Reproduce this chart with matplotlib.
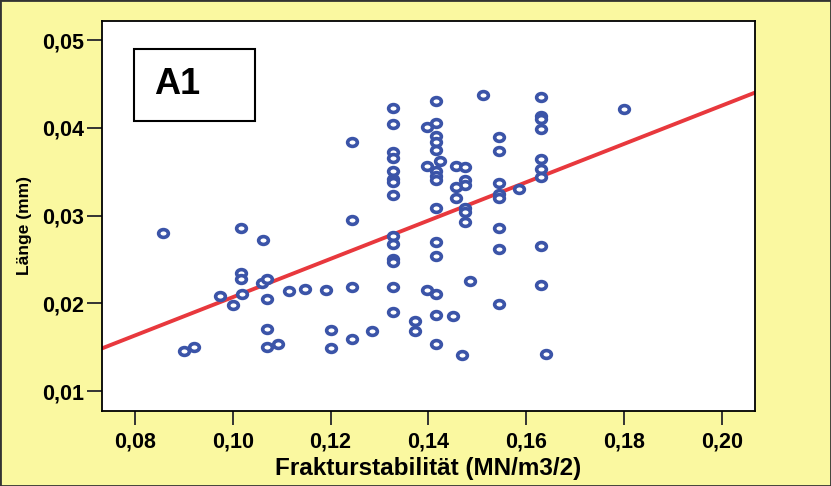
import numpy as np
import matplotlib
matplotlib.use("Agg")
import matplotlib.pyplot as plt
from matplotlib.path import Path
from matplotlib.patches import Rectangle
from matplotlib.ticker import FuncFormatter

# fracture stability (MN/m3/2) and length (mm)
frakturstabilitaet = [
    0.0858, 0.1018, 0.1062, 0.1018, 0.1018, 0.1060, 0.1071, 0.0975, 0.1019,
    0.1001, 0.1071, 0.1115, 0.1148, 0.1191, 0.1071, 0.1200, 0.0900, 0.0921,
    0.1071, 0.1093, 0.1200, 0.1243, 0.1243, 0.1243, 0.1243, 0.1285,
    0.1328, 0.1328, 0.1328, 0.1328, 0.1328, 0.1328, 0.1328, 0.1328, 0.1328,
    0.1328, 0.1328, 0.1328, 0.1328, 0.1328,
    0.1372, 0.1372,
    0.1415, 0.1415, 0.1415, 0.1415, 0.1415, 0.1415, 0.1415, 0.1415, 0.1415,
    0.1415, 0.1415, 0.1415, 0.1415, 0.1415,
    0.1396, 0.1396, 0.1423, 0.1396, 0.1451, 0.1469, 0.1512,
    0.1456, 0.1475, 0.1475, 0.1475, 0.1456, 0.1456, 0.1475, 0.1475, 0.1475,
    0.1485,
    0.1544, 0.1544, 0.1544, 0.1544, 0.1544, 0.1544, 0.1544, 0.1544,
    0.1585,
    0.1629, 0.1629, 0.1629, 0.1629, 0.1629, 0.1629, 0.1629, 0.1629, 0.1629,
    0.1641, 0.1800,
]
laenge = [
    0.0280, 0.0286, 0.0272, 0.0235, 0.0228, 0.0223, 0.0228, 0.0208, 0.0210,
    0.0198, 0.0205, 0.0214, 0.0216, 0.0215, 0.0171, 0.0170, 0.0146, 0.0150,
    0.0150, 0.0154, 0.0149, 0.0384, 0.0295, 0.0218, 0.0159, 0.0168,
    0.0423, 0.0404, 0.0372, 0.0366, 0.0351, 0.0342, 0.0338, 0.0323, 0.0277,
    0.0267, 0.0250, 0.0247, 0.0218, 0.0190,
    0.0180, 0.0168,
    0.0430, 0.0406, 0.0391, 0.0384, 0.0375, 0.0351, 0.0345, 0.0340, 0.0309,
    0.0270, 0.0254, 0.0210, 0.0187, 0.0154,
    0.0401, 0.0356, 0.0362, 0.0215, 0.0185, 0.0141, 0.0437,
    0.0357, 0.0355, 0.0341, 0.0335, 0.0333, 0.0320, 0.0309, 0.0304, 0.0293,
    0.0225,
    0.0390, 0.0373, 0.0337, 0.0325, 0.0320, 0.0286, 0.0262, 0.0199,
    0.0330,
    0.0435, 0.0413, 0.0410, 0.0399, 0.0364, 0.0353, 0.0344, 0.0265, 0.0221,
    0.0142, 0.0421,
]

x_ticks = [0.08, 0.10, 0.12, 0.14, 0.16, 0.18, 0.20]
y_ticks = [0.01, 0.02, 0.03, 0.04, 0.05]

plt.rcParams['font.family'] = ['Liberation Sans', 'DejaVu Sans']
plt.rcParams['font.weight'] = 'bold'

yellow = '#faf8a0'
blue = '#3b54a8'
red = '#e8383d'

fig = plt.figure(figsize=(8.31, 4.86), dpi=100, facecolor=yellow)
ax = fig.add_axes([0.1227, 0.1543, 0.7858, 0.8025])
ax.set_facecolor('white')

# slightly flattened ring marker
circle = Path.unit_circle()
ring = Path(circle.vertices * np.array([1.25, 1.0]), circle.codes)

ax.plot(frakturstabilitaet, laenge, linestyle='none', marker=ring,
        markersize=7.0, markerfacecolor='white', markeredgecolor=blue,
        markeredgewidth=2.6, zorder=3)

xlim = (0.0733, 0.2067)
ylim = (0.00772, 0.05217)

# least squares line through the points
slope, intercept = np.polyfit(frakturstabilitaet, laenge, 1)
xs = np.array(xlim)
ax.plot(xs, slope * xs + intercept, color=red, linewidth=2.8, zorder=2)

ax.set_xlim(xlim)
ax.set_ylim(ylim)
ax.set_xticks(x_ticks)
ax.set_yticks(y_ticks)
comma = FuncFormatter(lambda v, pos: ('%.2f' % v).replace('.', ','))
ax.xaxis.set_major_formatter(comma)
ax.yaxis.set_major_formatter(comma)

ax.tick_params(axis='both', direction='out', color='#333333', width=1.4,
               labelsize=15.5, pad=2)
ax.tick_params(axis='x', length=10, pad=5)
ax.tick_params(axis='y', length=11)
for sp in ax.spines.values():
    sp.set_color('black')
    sp.set_linewidth(1.3)

ax.set_xlabel('Frakturstabilität (MN/m3/2)', fontsize=17.5, fontweight='bold',
              labelpad=3)
fig.text(0.030, 0.537, 'Länge (mm)', rotation=90, fontsize=12.5,
         fontweight='bold', ha='center', va='center')

# panel tag box
tag = Rectangle((134 / 831, 1 - 121 / 486), 121 / 831, 72 / 486,
                transform=fig.transFigure, facecolor='white',
                edgecolor='black', linewidth=1.5, zorder=5)
fig.patches.append(tag)
fig.text(177 / 831, 1 - 84 / 486, 'A1', fontsize=26, fontweight='bold',
         ha='center', va='center', zorder=6)

fig.patches.append(Rectangle((0, 0), 1, 1, transform=fig.transFigure,
                             facecolor='none', edgecolor='#333333',
                             linewidth=2))

fig.savefig('out.png', dpi=100, facecolor=yellow)
